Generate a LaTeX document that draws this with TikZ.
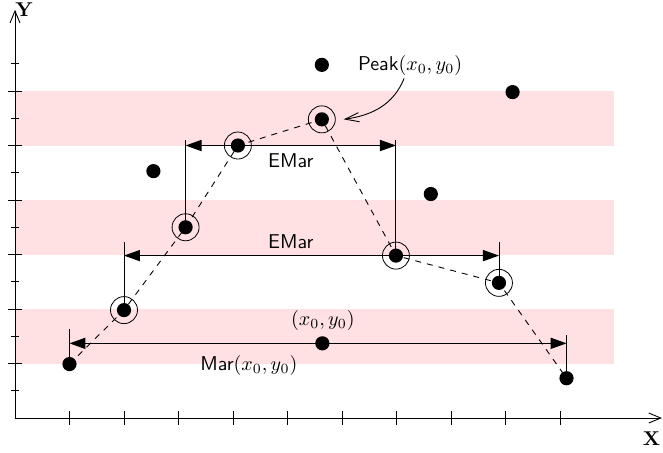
\documentclass[tikz,border=0pt]{standalone}
\usetikzlibrary{arrows.meta}
\definecolor{bandpink}{RGB}{255,224,227}
\begin{document}
\begin{tikzpicture}[x=27.25pt,y=27.25pt,
  axis/.style={line width=0.45pt,-{Straight Barb[length=6pt,width=5pt]}},
  tickmark/.style={line width=0.45pt},
  band/.style={fill=bandpink,draw=none},
  dot/.style={circle,fill=black,draw=none,inner sep=0pt,minimum size=7.1pt},
  ring/.style={circle,draw=black,line width=0.4pt,inner sep=0pt,minimum size=13.5pt},
  dimline/.style={line width=0.5pt,{Triangle[length=8pt,width=5.6pt]}-{Triangle[length=8pt,width=5.6pt]}},
  extline/.style={line width=0.45pt},
  trace/.style={dashed,line width=0.45pt},
  lbl/.style={inner sep=0pt,font=\sffamily},
  peakarrow/.style={line width=0.45pt,-{Straight Barb[length=7pt,width=4.6pt]}}
]
\useasboundingbox (-0.275,-0.624) rectangle (11.89,7.67);
% bands
\fill[band] (0,1) rectangle (11,2);
\fill[band] (0,3) rectangle (11,4);
\fill[band] (0,5) rectangle (11,6);
% axes
\coordinate (O) at (0,0);
\coordinate (xend) at (11.87,0);
\coordinate (yend) at (0,7.49);
\draw[axis] (O) -- (xend);
\draw[axis] (O) -- (yend);
\foreach \i in {1,...,10} \draw[tickmark] (\i,-0.13) -- (\i,0.13);
\foreach \j in {1,...,6} \draw[tickmark] (-0.13,\j) -- (0.13,\j);
\foreach \j in {0.5,1.5,...,6.5} \draw[tickmark] (-0.065,\j) -- (0.065,\j);
\node[font=\bfseries,inner sep=0pt] (ylab) at (0.165,7.49) {Y};
\node[font=\bfseries,inner sep=0pt] (xlab) at (11.68,-0.37) {X};
% point coordinates
\coordinate (c1) at (1,0.99);
\coordinate (c2) at (2,1.98);
\coordinate (c3) at (3.13,3.5);
\coordinate (c4) at (4.09,5.0);
\coordinate (c5) at (5.63,5.48);
\coordinate (c6) at (6.99,2.98);
\coordinate (c7) at (8.88,2.48);
\coordinate (c8) at (10.12,0.73);
\coordinate (q1) at (2.54,4.53);
\coordinate (q2) at (5.63,6.48);
\coordinate (q3) at (7.63,4.11);
\coordinate (q4) at (9.13,5.98);
\coordinate (q5) at (5.64,1.37);
% dashed trace
\draw[trace] (c1) -- (c2) -- (c3) -- (c4) -- (c5) -- (c6) -- (c7) -- (c8);
% Mar dimension
\coordinate (mLt) at (1,1.63);
\coordinate (mRt) at (10.12,1.52);
\coordinate (mL) at (1,1.37);
\coordinate (mR) at (10.12,1.37);
\draw[extline] (c1) -- (mLt);
\draw[extline] (c8) -- (mRt);
\draw[dimline] (mL) -- (mR);
% lower EMar
\coordinate (eLt) at (2,3.23);
\coordinate (eRt) at (8.88,3.23);
\coordinate (eL) at (2,2.98);
\coordinate (eR) at (8.88,2.98);
\draw[extline] (c2) -- (eLt);
\draw[extline] (c7) -- (eRt);
\draw[dimline] (eL) -- (eR);
% upper EMar
\coordinate (uLt) at (3.13,5.11);
\coordinate (uRt) at (6.99,5.11);
\coordinate (uL) at (3.13,5.0);
\coordinate (uR) at (6.99,5.0);
\draw[extline] (c3) -- (uLt);
\draw[extline] (c6) -- (uRt);
\draw[dimline] (uL) -- (uR);
% dots
\foreach \n in {c1,c2,c3,c4,c5,c6,c7,c8,q1,q2,q3,q4,q5}
  \node[dot] (d\n) at (\n) {};
\foreach \n in {c2,c3,c4,c5,c6,c7}
  \node[ring] (r\n) at (\n) {};
% labels
\node[lbl] (peak) at (7.25,6.46) {Peak$(x_0,y_0)$};
\node[lbl] (emu) at (5.06,4.73) {EMar};
\node[lbl] (eml) at (5.06,3.23) {EMar};
\node[lbl] (xy) at (5.65,1.79) {$(x_0,y_0)$};
\node[lbl] (mar) at (4.29,0.97) {Mar$(x_0,y_0)$};
\draw[peakarrow] ([xshift=-3pt,yshift=-1pt]peak.south) to[out=-112,in=8] ([xshift=4pt]rc5.east);
\end{tikzpicture}
\end{document}
